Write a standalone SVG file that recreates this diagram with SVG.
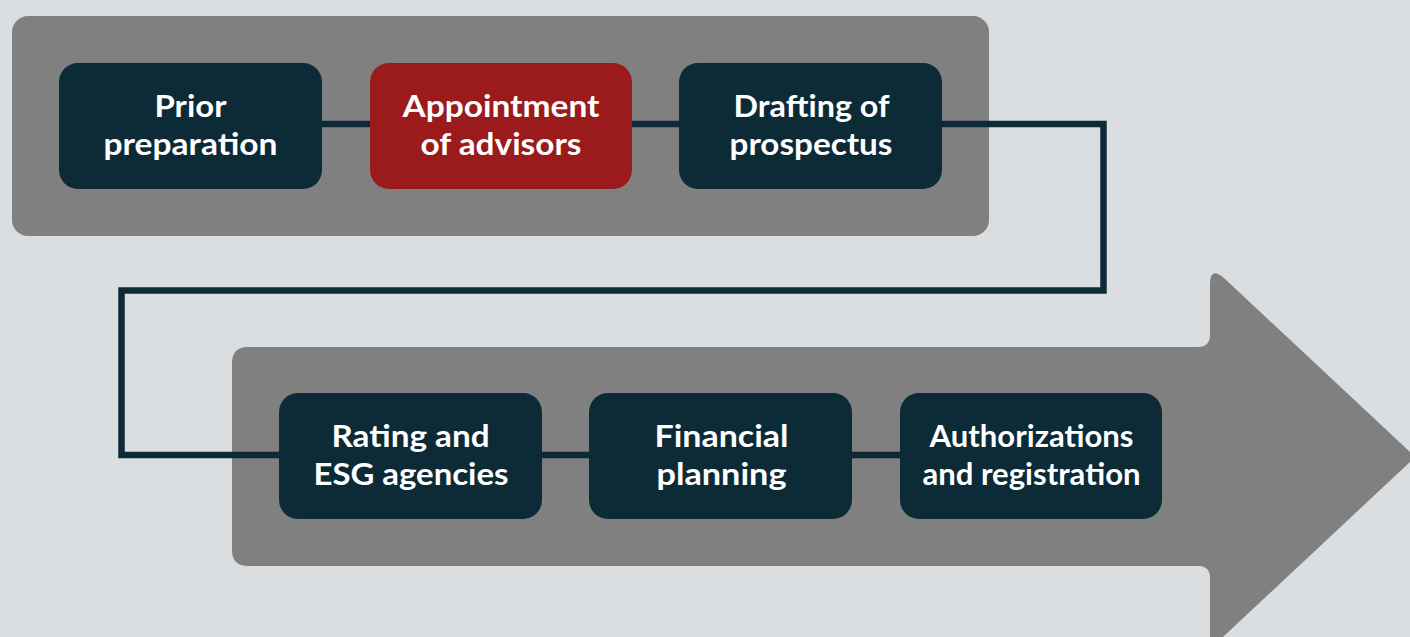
<svg xmlns="http://www.w3.org/2000/svg" width="1410" height="637" viewBox="0 0 1410 637">
  <style>
    .panel { fill: #808080; }
    .node { fill: #0c2b37; }
    .node.hl { fill: #9b1b1c; }
    .wire { fill: none; stroke: #0c2b37; stroke-width: 6.5; stroke-linejoin: miter; }
    .lbl { fill: #ffffff; font-family: Lato, "Noto Sans", "Liberation Sans", sans-serif; font-weight: 700; font-size: 31px; text-anchor: middle; }
  </style>

  <!-- page background -->
  <rect x="0" y="0" width="1410" height="637" fill="#dadee1"/>

  <!-- upper stage band -->
  <rect class="panel" x="12" y="16" width="977" height="220" rx="16"/>

  <!-- lower stage band, drawn as a big arrow pointing right -->
  <path class="panel" d="M 248 347 L 1198 347 Q 1210 347 1210 335 L 1210 284 Q 1210 266 1224 278 L 1410 452 L 1410 462 L 1224 636 L 1210 650 L 1210 578 Q 1210 566 1198 566 L 248 566 Q 232 566 232 550 L 232 363 Q 232 347 248 347 Z"/>

  <!-- connectors -->
  <g id="connectors">
    <path class="wire" d="M 322 124 L 370 124"/>
    <path class="wire" d="M 632 124 L 679 124"/>
    <path class="wire" d="M 942 124 L 1103.5 124 L 1103.5 290.5 L 121.5 290.5 L 121.5 455 L 279 455"/>
    <path class="wire" d="M 542 455 L 589 455"/>
    <path class="wire" d="M 852 455 L 900 455"/>
  </g>

  <g id="prior-preparation">
    <rect class="node" x="59" y="63" width="263" height="126" rx="19"/>
    <text class="lbl" x="190.5" y="117" textLength="72" lengthAdjust="spacingAndGlyphs">Prior</text>
    <text class="lbl" x="190.5" y="155" textLength="174" lengthAdjust="spacingAndGlyphs">preparation</text>
  </g>

  <g id="appointment-of-advisors">
    <rect class="node hl" x="370" y="63" width="262" height="126" rx="19"/>
    <text class="lbl" x="501" y="117" textLength="197" lengthAdjust="spacingAndGlyphs">Appointment</text>
    <text class="lbl" x="501" y="155" textLength="161" lengthAdjust="spacingAndGlyphs">of advisors</text>
  </g>

  <g id="drafting-of-prospectus">
    <rect class="node" x="679" y="63" width="263" height="126" rx="19"/>
    <text class="lbl" x="811.5" y="117" textLength="156" lengthAdjust="spacingAndGlyphs">Drafting of</text>
    <text class="lbl" x="811" y="155" textLength="163" lengthAdjust="spacingAndGlyphs">prospectus</text>
  </g>

  <g id="rating-and-esg-agencies">
    <rect class="node" x="279" y="393" width="263" height="126" rx="19"/>
    <text class="lbl" x="410.5" y="447" textLength="158" lengthAdjust="spacingAndGlyphs">Rating and</text>
    <text class="lbl" x="411" y="485" textLength="195" lengthAdjust="spacingAndGlyphs">ESG agencies</text>
  </g>

  <g id="financial-planning">
    <rect class="node" x="589" y="393" width="263" height="126" rx="19"/>
    <text class="lbl" x="721.5" y="447" textLength="134" lengthAdjust="spacingAndGlyphs">Financial</text>
    <text class="lbl" x="721.5" y="485" textLength="130" lengthAdjust="spacingAndGlyphs">planning</text>
  </g>

  <g id="authorizations-and-registration">
    <rect class="node" x="900" y="393" width="262" height="126" rx="19"/>
    <text class="lbl" x="1031.5" y="447" textLength="204" lengthAdjust="spacingAndGlyphs">Authorizations</text>
    <text class="lbl" x="1031.5" y="485" textLength="218" lengthAdjust="spacingAndGlyphs">and registration</text>
  </g>
</svg>
